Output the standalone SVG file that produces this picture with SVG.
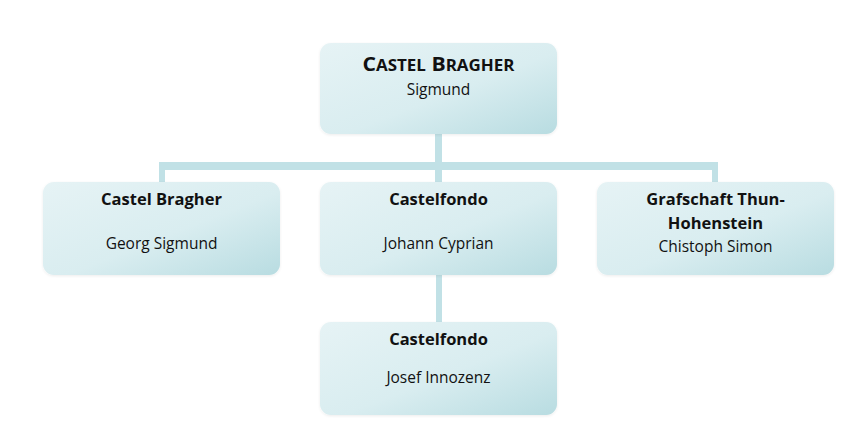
<svg xmlns="http://www.w3.org/2000/svg" width="855" height="432" viewBox="0 0 855 432">
<defs>
<linearGradient id="g" x1="0" y1="0" x2="1" y2="1">
<stop offset="0" stop-color="#e6f3f5"/>
<stop offset="0.55" stop-color="#d9edf0"/>
<stop offset="1" stop-color="#b8dce1"/>
</linearGradient>
<filter id="sh" x="-10%" y="-10%" width="120%" height="130%">
<feGaussianBlur in="SourceAlpha" stdDeviation="1.5"/>
<feOffset dy="1"/>
<feComponentTransfer><feFuncA type="linear" slope="0.08"/></feComponentTransfer>
<feMerge><feMergeNode/><feMergeNode in="SourceGraphic"/></feMerge>
</filter>
</defs>
<style>
.box{fill:url(#g);filter:url(#sh);}
.t{font-family:"Open Sans","Noto Sans","Liberation Sans",sans-serif;fill:#111;text-anchor:middle;}
.b{font-weight:bold;font-size:16.5px;}
.r{font-size:15.5px;}
.con{fill:#c1e1e6;}
</style>
<rect width="855" height="432" fill="#ffffff"/>
<g id="connectors">
<rect class="con" x="435" y="134" width="7" height="48"/>
<rect class="con" x="159" y="162" width="559" height="8"/>
<rect class="con" x="159" y="162" width="6" height="20"/>
<rect class="con" x="712" y="162" width="6" height="20"/>
<rect class="con" x="436" y="275" width="6" height="47"/>
</g>
<g id="node-top">
<rect class="box" x="320" y="43" width="237" height="91" rx="11"/>
<text class="t" x="438.5" y="71" font-weight="bold" font-size="20" textLength="152" lengthAdjust="spacingAndGlyphs">C<tspan font-size="16">ASTEL</tspan> B<tspan font-size="16">RAGHER</tspan></text>
<text class="t r" x="438.5" y="95">Sigmund</text>
</g>
<g id="node-left">
<rect class="box" x="43" y="182" width="237" height="93" rx="11"/>
<text class="t b" x="161.5" y="205">Castel Bragher</text>
<text class="t r" x="161.5" y="249">Georg Sigmund</text>
</g>
<g id="node-middle">
<rect class="box" x="320" y="182" width="237" height="93" rx="11"/>
<text class="t b" x="438.5" y="205">Castelfondo</text>
<text class="t r" x="438.5" y="249">Johann Cyprian</text>
</g>
<g id="node-right">
<rect class="box" x="597" y="182" width="237" height="93" rx="11"/>
<text class="t b" x="715.5" y="205">Grafschaft Thun-</text>
<text class="t b" x="715.5" y="229">Hohenstein</text>
<text class="t r" x="715.5" y="252">Chistoph Simon</text>
</g>
<g id="node-bottom">
<rect class="box" x="320" y="322" width="237" height="93" rx="11"/>
<text class="t b" x="438.5" y="345">Castelfondo</text>
<text class="t r" x="438.5" y="383">Josef Innozenz</text>
</g>
</svg>
